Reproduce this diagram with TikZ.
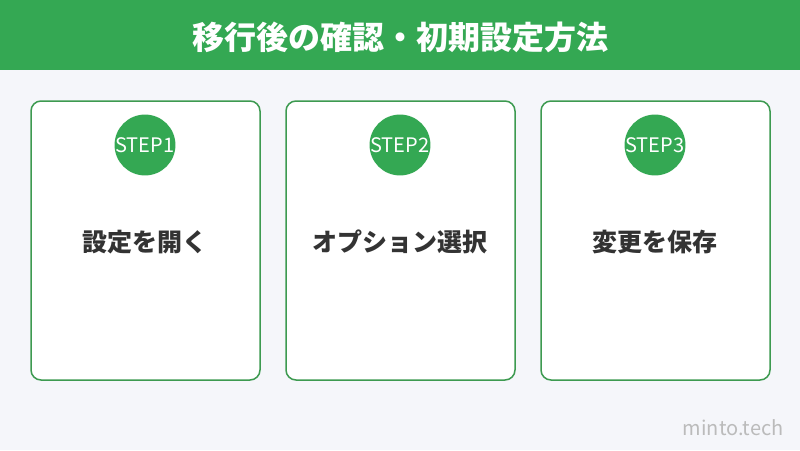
\documentclass[tikz,border=0pt]{standalone}
\usepackage{fontspec}
\setmainfont{Noto Sans CJK JP}
\usetikzlibrary{positioning}
\definecolor{headgreen}{HTML}{34A853}
\definecolor{edgegreen}{HTML}{3D9A50}
\definecolor{pagebg}{HTML}{F5F6FA}
\definecolor{labelgray}{HTML}{333333}
\definecolor{markgray}{HTML}{BBBBBB}
\tikzset{
  stepbox/.style={draw=edgegreen, fill=white, line width=1.5pt, rounded corners=10pt,
    minimum width=229pt, minimum height=279pt, inner sep=0pt},
  stepdot/.style={circle, fill=headgreen, minimum size=50pt, inner sep=0pt,
    text=white, font=\fontsize{20}{20}\selectfont},
  steplabel/.style={text=labelgray, font=\fontsize{25}{25}\selectfont\bfseries}
}
\begin{document}
\begin{tikzpicture}[x=1pt, y=-1pt]

        % BACKGROUND AND HEADER
        \fill[pagebg] (0,0) rectangle (800,450);
        \useasboundingbox (0,0) rectangle (800,450);
        \fill[headgreen] (0,0) rectangle (800,70);
        \node[text=white, font=\fontsize{32}{32}\selectfont\bfseries] (title) at (400,37) {移行後の確認・初期設定方法};

        % STEPS
        \node[stepbox] (box1) at (145.5,240.5) {};
        \node[stepbox] (box2) at (400.5,240.5) {};
        \node[stepbox] (box3) at (655.5,240.5) {};

        \node[stepdot] (dot1) at (145,145) {STEP1};
        \node[stepdot] (dot2) at (400,145) {STEP2};
        \node[stepdot] (dot3) at (655,145) {STEP3};

        \node[steplabel] (open) at (145,242) {設定を開く};
        \node[steplabel] (pick) at (400,242) {オプション選択};
        \node[steplabel] (save) at (655,242) {変更を保存};

        % WATERMARK
        \node[anchor=east, text=markgray, font=\fontsize{20}{20}\selectfont] (mark) at (787,428) {minto.tech};

    \end{tikzpicture}
\end{document}
